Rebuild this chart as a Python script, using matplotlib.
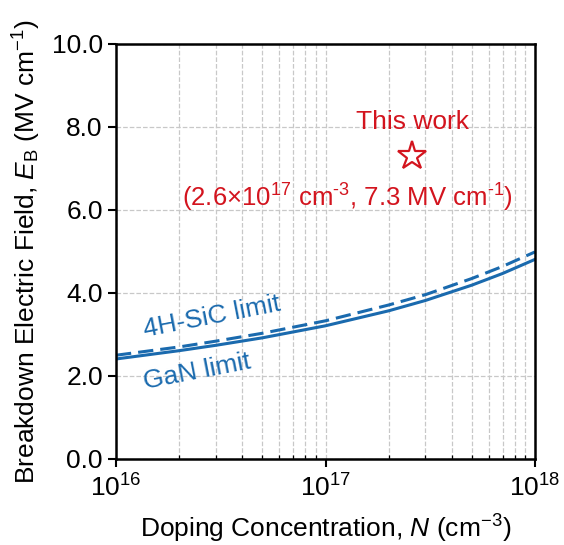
import matplotlib
matplotlib.use('Agg')
from matplotlib import pyplot as plt
from matplotlib.ticker import FormatStrFormatter

plt.rcParams['font.family'] = ['Liberation Sans', 'DejaVu Sans']
plt.rcParams['mathtext.fontset'] = 'custom'
plt.rcParams['mathtext.rm'] = 'Liberation Sans'
plt.rcParams['mathtext.it'] = 'Liberation Sans:italic'

# doping concentration (cm^-3) and breakdown field (MV/cm)
doping = [1e16, 2e16, 3e16, 5e16, 1e17, 2e17, 3e17, 5e17, 7e17, 1e18]
gan_limit = [2.41, 2.61, 2.74, 2.92, 3.21, 3.57, 3.82, 4.19, 4.47, 4.81]
sic_limit = [2.50, 2.70, 2.84, 3.03, 3.33, 3.71, 3.96, 4.35, 4.64, 4.99]
this_work_n = 2.6e17
this_work_e = 7.3

blue = '#1A6AAE'
red = '#D3141E'

fig = plt.figure(figsize=(5.64, 5.45), dpi=100)
ax = fig.add_axes([0.2057, 0.1578, 0.7429, 0.7615])

ax.plot(doping, gan_limit, color=blue, lw=2.2)
ax.plot(doping, sic_limit, color=blue, lw=2.2, ls=(0, (5, 2.3)))
ax.plot([this_work_n], [this_work_e], marker='*', ms=21, mfc='white',
        mec=red, mew=1.6, ls='none')

ax.text(this_work_n, 8.12, 'This work', color=red, fontsize=19, ha='center', va='center')
ax.text(1.27e17, 6.29,
        r'(2.6×10$^{17}$ cm$^{\text{-}3}$, 7.3 MV cm$^{\text{-}1}$)',
        color=red, fontsize=18.5, ha='center', va='center')
ax.text(2.87e16, 3.42, '4H-SiC limit', color=blue, fontsize=19, rotation=11,
        ha='center', va='center', rotation_mode='anchor')
ax.text(2.44e16, 2.10, 'GaN limit', color=blue, fontsize=19, rotation=11,
        ha='center', va='center', rotation_mode='anchor')

ax.set_xscale('log')
ax.set_xlim(1e16, 1e18)
ax.set_ylim(0, 10)
ax.set_yticks([0, 2, 4, 6, 8, 10])
ax.yaxis.set_major_formatter(FormatStrFormatter('%.1f'))

ax.grid(True, which='both', axis='x', color='#C8C8C8', ls='--', lw=0.9)
ax.grid(True, which='major', axis='y', color='#C8C8C8', ls='--', lw=0.9)

for s in ax.spines.values():
    s.set_linewidth(1.8)
ax.tick_params(which='major', direction='out', length=6, width=1.5, labelsize=19)
ax.tick_params(axis='x', which='major', pad=5)
ax.tick_params(which='minor', direction='in', length=3, width=0.9)
ax.tick_params(axis='y', which='minor', left=False)

ax.set_xlabel(r'Doping Concentration, $N$ (cm$^{-3}$)', fontsize=19, labelpad=8)
ax.set_ylabel(r'Breakdown Electric Field, $E_\mathrm{B}$ (MV cm$^{-1}$)', fontsize=19,
              labelpad=6)

fig.savefig('out.png', dpi=100)
